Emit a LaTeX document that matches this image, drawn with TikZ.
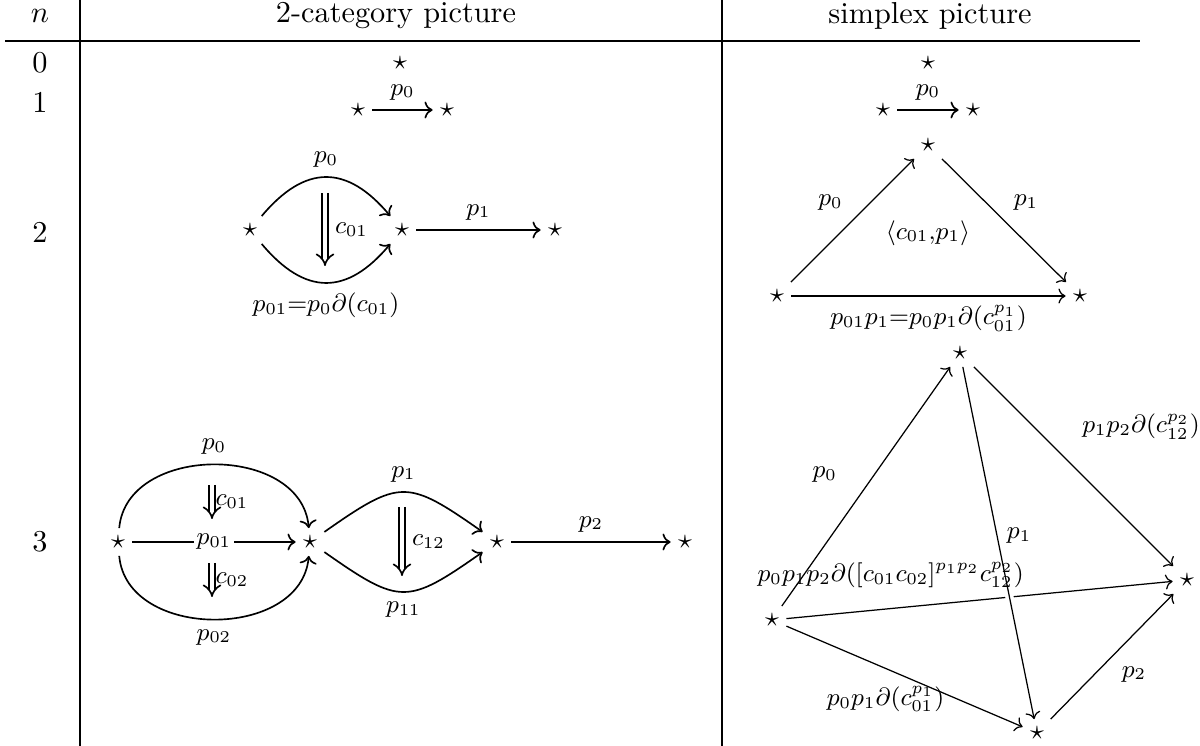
\documentclass[tikz,border=0pt]{standalone}
\usepackage{amsmath,amssymb}
\usepackage{tikz}
\usetikzlibrary{arrows.meta, positioning}

\begin{document}
\begin{tikzpicture}[
    x=0.0127cm, y=-0.0127cm,
    font=\small,
    tab/.style={font=\fontsize{10.95}{13.6}\selectfont},
    vx/.style={inner sep=2.5pt, font=\normalsize},
    arr/.style={-{To}, semithick},
    sarr/.style={-{To}, line width=0.45pt},
    cell/.style={double, double distance=1.7pt, -{Implies}, semithick},
    halo/.style={preaction={draw=white, line width=3pt}},
    frame/.style={line width=0.5pt}
]
\useasboundingbox (0,0) rectangle (1200,746);

% table
\draw[line width=0.9pt] (5,41) -- (1140,41);
\draw[frame] (80,0) -- (80,746);
\draw[frame] (722,0) -- (722,746);

\node[tab] (hn) at (40,16) {$n$};
\node[tab] (hcat) at (396,16) {2-category picture};
\node[tab] (hsim) at (930,16) {simplex picture};

\node[tab] (r0) at (40,63) {0};
\node[tab] (r1) at (40,102) {1};
\node[tab] (r2) at (40,232) {2};
\node[tab] (r3) at (40,542) {3};

% n = 0
\node[vx] (a0) at (400,63) {$\star$};
\node[vx] (b0) at (928,63) {$\star$};

% n = 1
\node[vx] (a1s) at (358,110) {$\star$};
\node[vx] (a1t) at (447,110) {$\star$};
\draw[arr] (a1s) -- node[above]{$p_0$} (a1t);
\node[vx] (b1s) at (883,110) {$\star$};
\node[vx] (b1t) at (973,110) {$\star$};
\draw[arr] (b1s) -- node[above]{$p_0$} (b1t);

% n = 2, 2-category
\node[vx] (a2x) at (250,230) {$\star$};
\node[vx] (a2y) at (402,230) {$\star$};
\node[vx] (a2z) at (555,230) {$\star$};
\draw[arr] (a2x) to[out=50, in=130, looseness=1.35] node[above]{$p_0$} (a2y);
\draw[arr] (a2x) to[out=-50, in=-130, looseness=1.35] node[below]{$p_{01}{=}p_0\partial(c_{01})$} (a2y);
\coordinate (c01a) at (325,193);
\coordinate (c01b) at (325,266);
\draw[cell] (c01a) -- node[right]{$c_{01}$} (c01b);
\draw[arr] (a2y) -- node[above]{$p_1$} (a2z);

% n = 2, simplex
\node[vx] (b2t) at (928,145) {$\star$};
\node[vx] (b2l) at (777,296) {$\star$};
\node[vx] (b2r) at (1080,296) {$\star$};
\draw[sarr] (b2l) -- node[above left]{$p_0$} (b2t);
\draw[sarr] (b2t) -- node[above right]{$p_1$} (b2r);
\draw[sarr] (b2l) -- node[below]{$p_{01}p_1{=}p_0p_1\partial(c_{01}^{p_1})$} (b2r);
\node (b2f) at (928,233) {$\langle c_{01}{,}p_1\rangle$};

% n = 3, 2-category
\node[vx] (a3w) at (118,542) {$\star$};
\node[vx] (a3x) at (310,542) {$\star$};
\node[vx] (a3y) at (497,542) {$\star$};
\node[vx] (a3z) at (685,542) {$\star$};
\draw[arr] (a3w) to[out=85, in=95, looseness=1.15] node[above]{$p_0$} (a3x);
\draw[arr] (a3w) -- node[fill=white, inner sep=1pt]{$p_{01}$} (a3x);
\draw[arr] (a3w) to[out=-85, in=-95, looseness=1.15] node[below]{$p_{02}$} (a3x);
\coordinate (c01u) at (212,485);
\coordinate (c01d) at (212,519);
\draw[cell] (c01u) -- node[right, inner sep=1pt]{$c_{01}$} (c01d);
\coordinate (c02u) at (212,563);
\coordinate (c02d) at (212,597);
\draw[cell] (c02u) -- node[right, inner sep=1pt]{$c_{02}$} (c02d);
\draw[arr] (a3x) to[out=35, in=145, looseness=1.5] node[above]{$p_1$} (a3y);
\draw[arr] (a3x) to[out=-35, in=-145, looseness=1.5] node[below]{$p_{11}$} (a3y);
\coordinate (c12u) at (402,507);
\coordinate (c12d) at (402,576);
\draw[cell] (c12u) -- node[right]{$c_{12}$} (c12d);
\draw[arr] (a3y) -- node[above]{$p_2$} (a3z);

% n = 3, simplex
\node[vx] (b3t) at (960,353) {$\star$};
\node[vx] (b3r) at (1187,580) {$\star$};
\node[vx] (b3l) at (772,620) {$\star$};
\node[vx] (b3b) at (1037,733) {$\star$};
\draw[sarr] (b3l) -- node[pos=0.55, left=10pt]{$p_0$} (b3t);
\draw[sarr] (b3t) -- node[pos=0.3, right=14pt]{$p_1p_2\partial(c_{12}^{p_2})$} (b3r);
\draw[sarr] (b3l) -- (b3r);
\draw[sarr, halo] (b3t) -- node[pos=0.48, right]{$p_1$} (b3b);
\path (b3l) -- node[pos=0.27, above=4pt]{$p_0p_1p_2\partial([c_{01}c_{02}]^{p_1p_2}c_{12}^{p_2})$} (b3r);
\draw[sarr] (b3l) -- node[pos=0.42, below=3pt]{$p_0p_1\partial(c_{01}^{p_1})$} (b3b);
\draw[sarr] (b3b) -- node[pos=0.5, below right]{$p_2$} (b3r);

\end{tikzpicture}
\end{document}
